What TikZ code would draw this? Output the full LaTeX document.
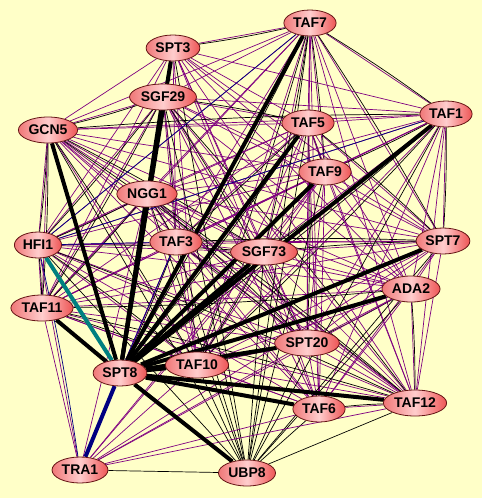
\documentclass[tikz,border=0pt]{standalone}
\usepackage{fontspec}
\setmainfont{Liberation Sans}
\usetikzlibrary{shapes.geometric}
\definecolor{bg}{RGB}{255,255,200}
\definecolor{pur}{RGB}{128,0,128}
\definecolor{nav}{RGB}{0,0,128}
\definecolor{tea}{RGB}{0,128,128}
\definecolor{nodeedge}{RGB}{100,20,20}
\definecolor{nl}{RGB}{240,120,120}
\definecolor{nm}{RGB}{255,205,205}
\definecolor{nr}{RGB}{238,85,85}
\pgfdeclarelayer{back}
\pgfdeclarelayer{edges}
\pgfsetlayers{back,edges,main}
\begin{document}
\begin{tikzpicture}[x=1pt,y=-1pt,
 gene/.style={ellipse, draw=nodeedge, line width=0.8pt, left color=nl, right color=nr, middle color=nm,
   font=\fontsize{14}{14}\selectfont\bfseries, inner xsep=1.5pt, inner ysep=0pt, minimum height=26pt},
 pe/.style={draw=pur, line width=0.7pt},
 ke/.style={draw=black, line width=0.7pt},
 kb/.style={draw=black, line width=0.7pt, bend left=2},
 be/.style={draw=nav, line width=0.7pt},
 he/.style={draw=black, line width=4pt},
]
\begin{pgfonlayer}{back}
\fill[bg] (0,0) rectangle (482,498);
\end{pgfonlayer}
\useasboundingbox (0,0) rectangle (482,498);

\node[gene] (taf7)  at (310,23)  {TAF7};
\node[gene] (spt3)  at (173,48)  {SPT3};
\node[gene] (sgf29) at (163,97)  {SGF29};
\node[gene] (gcn5)  at (48,130)  {GCN5};
\node[gene] (taf5)  at (308,123) {TAF5};
\node[gene] (taf1)  at (446,114) {TAF1};
\node[gene] (taf9)  at (325,172) {TAF9};
\node[gene] (ngg1)  at (147,194) {NGG1};
\node[gene] (hfi1)  at (38,245)  {HFI1};
\node[gene] (taf3)  at (176,242) {TAF3};
\node[gene] (sgf73) at (264,252) {SGF73};
\node[gene] (spt7)  at (443,241) {SPT7};
\node[gene] (ada2)  at (411,289) {ADA2};
\node[gene] (taf11) at (42,308)  {TAF11};
\node[gene] (spt20) at (307,343) {SPT20};
\node[gene] (taf10) at (197,365) {TAF10};
\node[gene] (spt8)  at (120,373) {SPT8};
\node[gene] (taf6)  at (319,409) {TAF6};
\node[gene] (taf12) at (415,403) {TAF12};
\node[gene] (tra1)  at (80,470)  {TRA1};
\node[gene] (ubp8)  at (247,473) {UBP8};

\begin{pgfonlayer}{edges}
\foreach \a [count=\i] in {taf7,spt3,sgf29,gcn5,taf5,taf1,taf9,ngg1,hfi1,taf3,sgf73,spt7,ada2,taf11,spt20,taf10,spt8,taf6,taf12}{
  \foreach \b [count=\j] in {taf7,spt3,sgf29,gcn5,taf5,taf1,taf9,ngg1,hfi1,taf3,sgf73,spt7,ada2,taf11,spt20,taf10,spt8,taf6,taf12}{
    \ifnum\j>\i
      \draw[pe] (\a) -- (\b);
      \pgfmathtruncatemacro\c{mod(\i*7+\j*13+\i*\j,5)}
      \ifnum\c<2 \draw[kb] (\a) to (\b); \fi
    \fi
  }
}
\foreach \b in {taf7,spt3,sgf29,gcn5,taf5,taf1,taf9,ngg1,hfi1,taf3,sgf73,spt7,ada2,taf11,spt20,taf10,taf6,taf12,tra1}
  \draw[ke] (ubp8) -- (\b);
\foreach \b in {taf10,spt20,taf6,taf12,ada2,sgf73,spt7,taf3,ngg1,taf9,taf11,hfi1,spt8}
  \draw[pe] (tra1) -- (\b);
\draw[be] (hfi1) to[bend left=2] (tra1);
\draw[be] (hfi1) -- (taf7);
\draw[be] (hfi1) -- (taf1);
\draw[be] (hfi1) -- (taf3);
\draw[be] (taf3) -- (spt8);
\foreach \b in {spt3,sgf29,ngg1,gcn5,taf11,ubp8,taf10,taf6,taf12,spt20,ada2,spt7,taf1,taf9,taf5,taf7,sgf73}
  \draw[he] (spt8) -- (\b);
\draw[draw=tea, line width=4pt] (spt8) -- (hfi1);
\draw[draw=nav, line width=4pt] (spt8) -- (tra1);
\end{pgfonlayer}
\end{tikzpicture}
\end{document}
